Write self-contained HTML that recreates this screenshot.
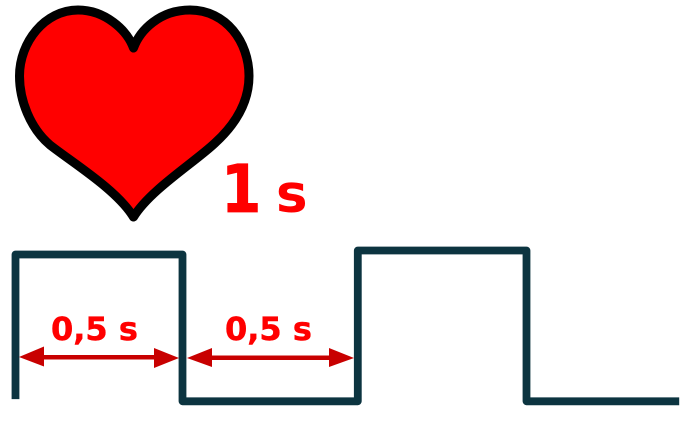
<!DOCTYPE html>
<html lang="en">
<head>
<meta charset="utf-8">
<title>Heartbeat pulse diagram</title>
<style>
html,body{margin:0;padding:0;background:#fff;width:688px;height:426px;overflow:hidden}
svg{display:block}
text{font-family:"DejaVu Sans",sans-serif;font-weight:bold;fill:#ff0000}
</style>
</head>
<body>
<svg id="diagram" width="688" height="426" viewBox="0 0 688 426" xmlns="http://www.w3.org/2000/svg">
  <path d="M133.5,48 C140,30 160,10 190,10 C226,10 249,42 249,76 C249,100 238,122 215,143 C195,162 150,190 133.5,217 C117,190 73,163 50,145 C30,128 19.5,100 19.5,76 C19.5,42 45,10 78,10 C105,10 127,30 133.5,48 Z" fill="#ff0000" stroke="#000000" stroke-width="9" stroke-linejoin="round"/>
  <text transform="translate(221 212) scale(0.88 1)" font-size="66" stroke="#ff0000" stroke-width="0.8">1</text>
  <text x="276" y="212" font-size="53">s</text>
  <path id="wave" fill="none" stroke="#0c3440" stroke-width="7.8" stroke-linejoin="round" stroke-linecap="butt"/>
  <g fill="#c80000">
    <rect x="40" y="355" width="118" height="4.5"/>
    <polygon points="19,357 44,346.5 44,366.5"/>
    <polygon points="179,358 154,348 154,368"/>
  </g>
  <g fill="#c80000">
    <rect x="208" y="355.5" width="124" height="4.5"/>
    <polygon points="187,358 212,348 212,367"/>
    <polygon points="354,358 329,348 329,367"/>
  </g>
  <text x="51" y="340" font-size="32" stroke="#ff0000" stroke-width="0.5">0,5 s</text>
  <text x="225" y="340" font-size="32" stroke="#ff0000" stroke-width="0.5">0,5 s</text>
</svg>
<script>
var waveTimes = [0, 0, 0.5, 0.5, 1.025, 1.025, 1.53, 1.53, 1.987];
var waveLevels = [0.015, 1, 1, 0, 0, 1.027, 1.027, 0, 0];
function xScale(t) { return 15.5 + t * 334; }
function yScale(v) { return 401.3 - v * 146.8; }
var wavePath = waveTimes.map(function (t, i) {
  return (i ? 'L' : 'M') + xScale(t).toFixed(1) + ',' + yScale(waveLevels[i]).toFixed(1);
}).join(' ');
document.getElementById('wave').setAttribute('d', wavePath);
</script>
</body>
</html>
